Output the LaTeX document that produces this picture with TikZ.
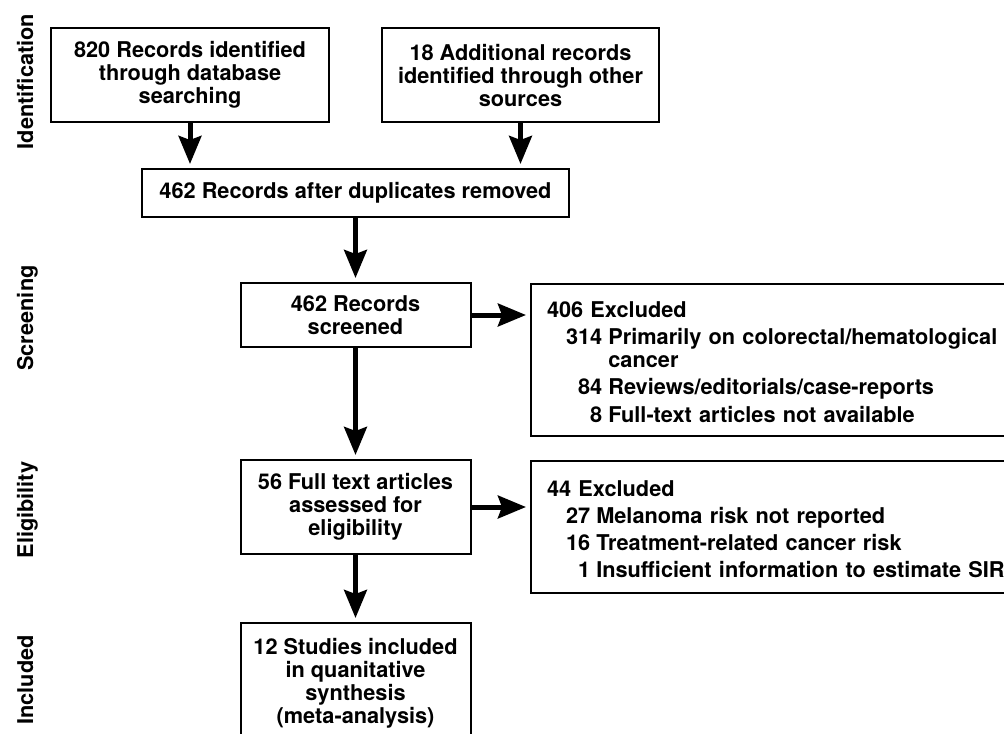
\documentclass[tikz,border=0pt]{standalone}
\usepackage{fontspec}
\setmainfont{TeX Gyre Heros}
\usetikzlibrary{arrows.meta}
\begin{document}
\begin{tikzpicture}[x=0.75pt,y=-0.75pt,
  txt/.style={font=\bfseries\fontsize{16.3}{17.25}\selectfont},
  box/.style={txt, draw, line width=1.5pt, inner sep=0pt, align=center},
  listbox/.style={txt, draw, line width=1.5pt, inner xsep=12pt, inner ysep=0pt, anchor=north west,
     text width=336pt, align=left, minimum width=360pt},
  arr/.style={line width=3.75pt, -{Stealth[length=21pt,width=17pt,inset=3pt]}, shorten >=3pt},
  phase/.style={txt, rotate=90, anchor=base, inner sep=0pt}]
\useasboundingbox (0,0) rectangle (1004,733);

% phase labels
\node[phase] (pI) at (33,81.5) {Identification};
\node[phase] (pS) at (33,318) {Screening};
\node[phase] (pE) at (33,510) {Eligibility};
\node[phase] (pN) at (33,680) {Included};

% main boxes
\node[box, minimum width=208.5pt, minimum height=70.5pt] (A) at (190,75)
  {820 Records identified\\through database\\searching};
\node[box, minimum width=207.75pt, minimum height=70.5pt] (B) at (520.5,75)
  {18 Additional records\\identified through other\\sources};
\node[box, minimum width=320.25pt, minimum height=36pt] (C) at (355.5,193)
  {462 Records after duplicates removed};
\node[box, minimum width=172.5pt, minimum height=48pt] (D) at (355.5,315)
  {462 Records\\screened};
\node[box, minimum width=172.5pt, minimum height=70.5pt] (F) at (355.5,507)
  {56 Full text articles\\assessed for\\eligibility};
\node[box, minimum width=172.5pt, minimum height=90pt] (H) at (355.5,683)
  {12 Studies included\\in quanitative\\synthesis\\(meta-analysis)};

% exclusion boxes
\node[listbox, minimum height=114pt] (E) at (530,283) {%
\begin{tabular}{@{\hspace{14.25pt}}r@{\hspace{4.6pt}}l@{}}
\multicolumn{2}{@{}l@{}}{\rule{0pt}{20pt}406 Excluded}\\[3pt]
314 & Primarily on colorectal/hematological\\
    & cancer\\[3pt]
84 & Reviews/editorials/case-reports\\[3pt]
8 & Full-text articles not available
\end{tabular}};
\node[listbox, minimum height=99pt] (G) at (530,460) {%
\begin{tabular}{@{\hspace{14.25pt}}r@{\hspace{4.6pt}}l@{}}
\multicolumn{2}{@{}l@{}}{\rule{0pt}{20pt}44 Excluded}\\[3pt]
27 & Melanoma risk not reported\\[3pt]
16 & Treatment-related cancer risk\\[3pt]
1 & Insufficient information to estimate SIR
\end{tabular}};

% connectors
\draw[arr] (A.south) -- (A.south |- C.north);
\draw[arr] (B.south) -- (B.south |- C.north);
\draw[arr] (C.south) -- (D.north);
\draw[arr] (D.east) -- (D.east -| E.west);
\draw[arr] (D.south) -- (F.north);
\draw[arr] (F.east) -- (F.east -| G.west);
\draw[arr] (F.south) -- (H.north);
\end{tikzpicture}
\end{document}
